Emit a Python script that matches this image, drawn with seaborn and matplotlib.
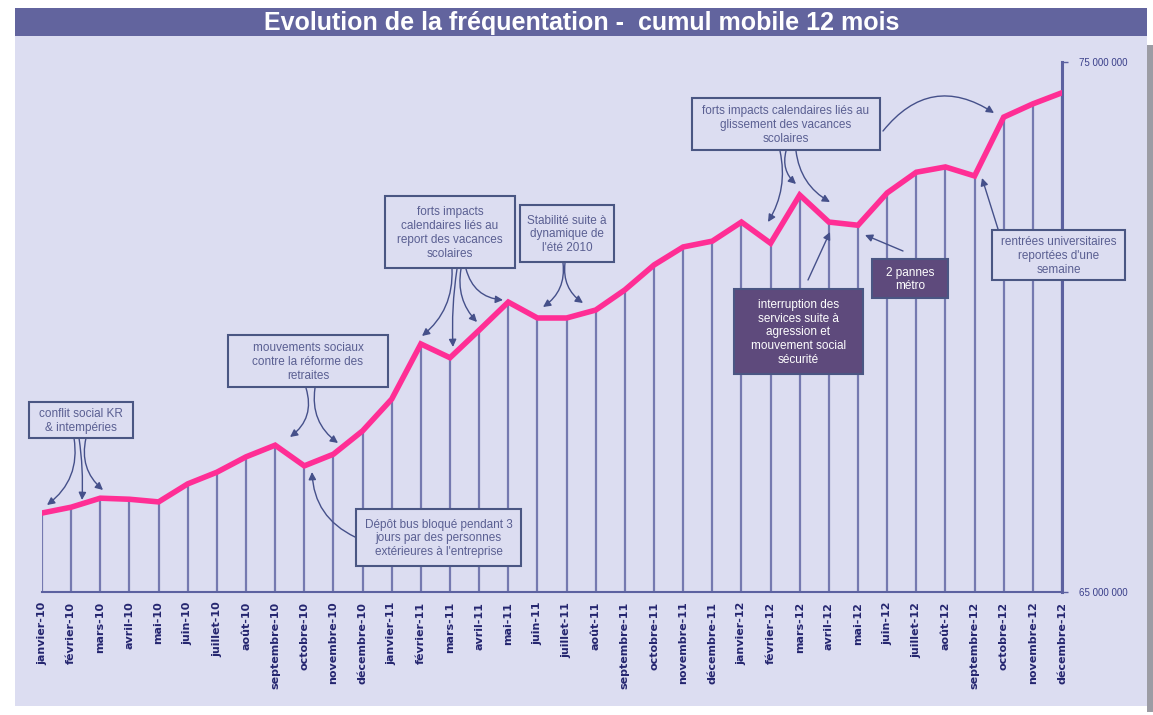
import matplotlib.pyplot as plt
import seaborn as sns
from matplotlib.patches import Rectangle

W, H = 1153, 715

mois = ["janvier", "février", "mars", "avril", "mai", "juin", "juillet", "août",
        "septembre", "octobre", "novembre", "décembre"]
annees = ["10", "11", "12"]
etiquettes = [f"{m}-{a}" for a in annees for m in mois]

# cumul mobile 12 mois, en millions de voyages
frequentation = [66.49, 66.60, 66.77, 66.75, 66.70, 67.04, 67.26, 67.55, 67.77, 67.38, 67.60, 68.04,
                 68.64, 69.68, 69.42, 69.94, 70.47, 70.17, 70.17, 70.32, 70.70, 71.17, 71.51, 71.62,
                 71.98, 71.58, 72.49, 71.98, 71.92, 72.53, 72.92, 73.02, 72.85, 73.96, 74.21, 74.42]
y_bornes = [65.0, 75.0]
y_etiquettes = ["65 000 000", "75 000 000"]

titre = "Evolution de la fréquentation -  cumul mobile 12 mois"

LAVANDE = "#DCDDF1"
BANDEAU = "#62649E"
ROSE = "#FF2E95"
TRAIT = "#7579B0"
MARINE = "#24256F"
TEXTE = "#5A5F92"
BORD = "#4A5683"
FONCE = "#5E4A7C"
FLECHE = "#45508A"

sns.set_style("white")
plt.rcParams["font.family"] = ["Liberation Sans", "DejaVu Sans"]


def fig_xy(x, y):
    # pixels depuis le coin haut-gauche -> fraction de figure
    return x / W, 1 - y / H


def cadre(x0, y0, x1, y1, couleur, z=0, bord="none", lw=0):
    fig.add_artist(Rectangle(fig_xy(x0, y1), (x1 - x0) / W, (y1 - y0) / H,
                             transform=fig.transFigure, facecolor=couleur,
                             edgecolor=bord, lw=lw, zorder=z))


fig = plt.figure(figsize=(W / 100, H / 100), dpi=100)
fig.patch.set_facecolor("white")

# fond, ombre et bandeau de titre
cadre(1147, 45, 1153, 712, "#9C9CA4")
cadre(15, 8, 1147, 706, LAVANDE)
cadre(15, 8, 1147, 36, BANDEAU)
fig.text(*fig_xy(582, 23), titre, color="white", fontsize=18, fontweight="bold",
         ha="center", va="center")

ax = fig.add_axes([42 / W, 1 - 592 / H, 1020 / W, 530 / H])
ax.set_facecolor("none")

x = list(range(len(frequentation)))
ax.vlines(x, y_bornes[0], frequentation, colors=TRAIT, lw=1.6, zorder=2)
sns.lineplot(x=x, y=frequentation, ax=ax, color=ROSE, lw=4, zorder=5,
             solid_joinstyle="miter")

ax.set_xlim(0, len(frequentation) - 1)
ax.set_ylim(*y_bornes)
for s in ["top", "left"]:
    ax.spines[s].set_visible(False)
ax.spines["bottom"].set_color("#5C61A0")
ax.spines["bottom"].set_linewidth(1.5)
ax.spines["right"].set_color("#5C61A0")
ax.spines["right"].set_linewidth(2.2)

ax.set_xticks(x)
ax.set_xticklabels(etiquettes, rotation=90, fontsize=8, fontweight="bold", color=MARINE,
                   family=["DejaVu Sans"])
ax.tick_params(axis="x", direction="out", length=4, width=1, color="#5C61A0", pad=3)
ax.yaxis.tick_right()
ax.set_yticks(y_bornes)
ax.set_yticklabels(y_etiquettes, fontsize=7, color="#3A3F8A")
ax.tick_params(axis="y", direction="out", length=4, width=1, color="#5C61A0", pad=8)
ax.set_xlabel("")
ax.set_ylabel("")

# encadrés de commentaires : texte, cadre en px (gauche, haut, droite, bas), encadré foncé ?
encadres = [
    ("conflit social KR\n& intempéries", (29, 402, 133, 438), False),
    ("mouvements sociaux\ncontre la réforme des\nretraites", (228, 335, 388, 387), False),
    ("forts impacts\ncalendaires liés au\nreport des vacances\nscolaires", (385, 196, 515, 268), False),
    ("Stabilité suite à\ndynamique de\nl'été 2010", (520, 205, 614, 262), False),
    ("Dépôt bus bloqué pendant 3\njours par des personnes\nextérieures à l'entreprise",
     (356, 509, 521, 566), False),
    ("forts impacts calendaires liés au\nglissement des vacances\nscolaires", (692, 98, 880, 150), False),
    ("interruption des\nservices suite à\nagression et\nmouvement social\nsécurité",
     (734, 289, 863, 374), True),
    ("2 pannes\nmétro", (872, 259, 948, 298), True),
    ("rentrées universitaires\nreportées d'une\nsemaine", (992, 230, 1125, 280), False),
]
for texte, (x0, y0, x1, y1), fonce in encadres:
    cadre(x0, y0, x1, y1, FONCE if fonce else LAVANDE, z=3, bord=BORD, lw=1.5)
    fig.text(*fig_xy((x0 + x1) / 2, (y0 + y1) / 2 + 1), texte, fontsize=8.5, ha="center",
             va="center", color="white" if fonce else TEXTE, linespacing=1.2, zorder=4)

# flèches : départ (px), pointe (px), courbure
fleches = [
    ((74, 438), (47, 505), -0.3),
    ((79, 438), (82, 500), -0.05),
    ((86, 438), (103, 490), 0.3),
    ((306, 388), (290, 437), -0.35),
    ((315, 388), (338, 443), 0.3),
    ((452, 269), (422, 336), -0.25),
    ((457, 269), (453, 347), 0.05),
    ((461, 269), (477, 322), 0.25),
    ((466, 269), (503, 300), 0.35),
    ((563, 263), (543, 307), -0.3),
    ((565, 263), (583, 303), 0.3),
    ((355, 537), (312, 472), -0.3),
    ((780, 151), (768, 222), -0.2),
    ((786, 151), (796, 184), 0.3),
    ((796, 151), (830, 202), 0.25),
    ((883, 131), (994, 113), -0.45),
    ((808, 280), (830, 232), 0.0),
    ((903, 251), (865, 235), 0.0),
    ((998, 229), (982, 178), 0.0),
]
for depart, pointe, rad in fleches:
    ax.annotate("", xy=fig_xy(*pointe), xycoords="figure fraction",
                xytext=fig_xy(*depart), textcoords="figure fraction",
                arrowprops=dict(arrowstyle="-|>", color=FLECHE, lw=1.0, shrinkA=0, shrinkB=0,
                                mutation_scale=11, connectionstyle=f"arc3,rad={rad}"),
                annotation_clip=False, zorder=9)

fig.savefig("out.png", dpi=100, facecolor=fig.get_facecolor())
